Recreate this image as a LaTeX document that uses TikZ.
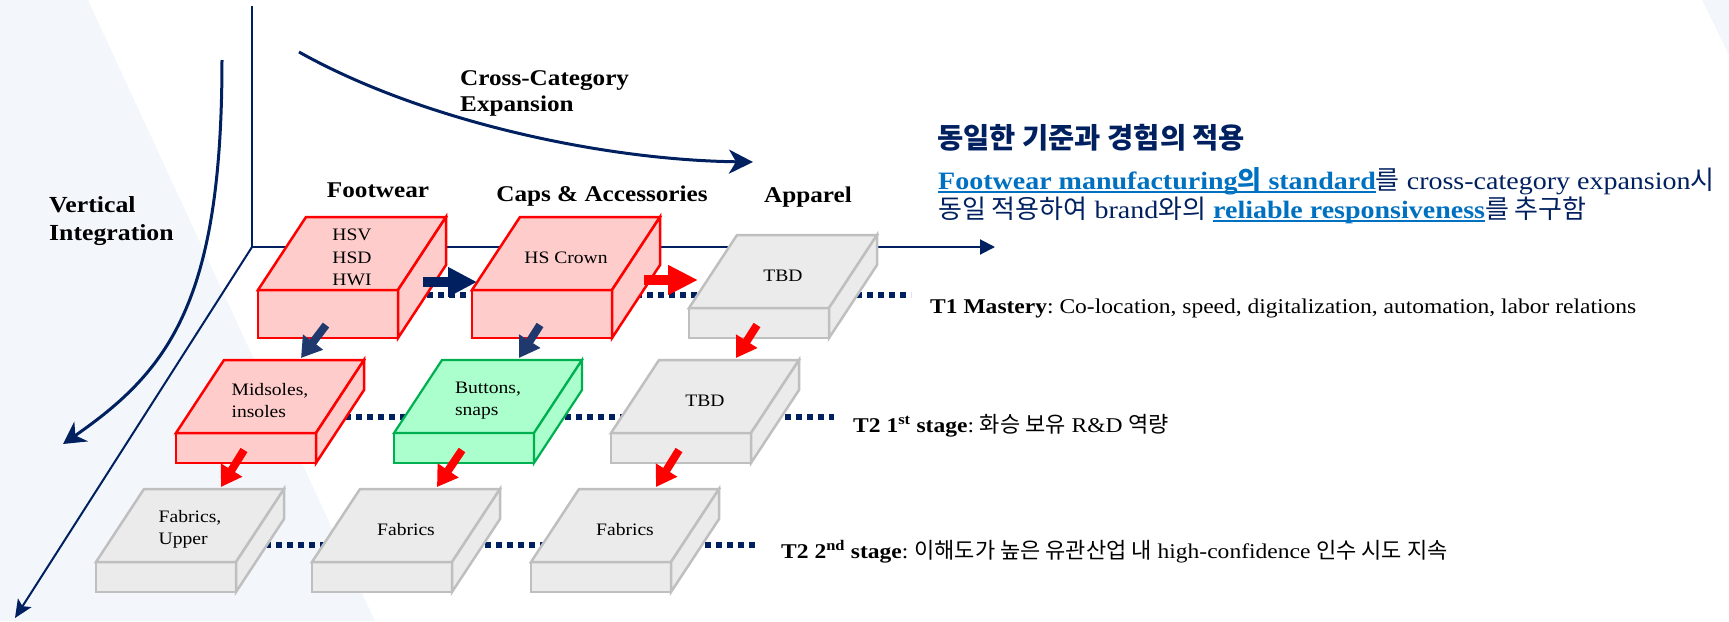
\documentclass[tikz,border=0pt]{standalone}
\usepackage{fontspec}
\setmainfont{Liberation Serif}[FakeStretch=1.12]
\newfontfamily\kr{Noto Sans CJK KR}
\usetikzlibrary{arrows.meta,calc}
\definecolor{navy}{HTML}{002060}
\definecolor{navyarr}{HTML}{1F386E}
\definecolor{bgblue}{HTML}{F3F6FB}
\definecolor{redfill}{HTML}{FFCCCC}
\definecolor{redline}{HTML}{FF0000}
\definecolor{grnfill}{HTML}{AAFFCC}
\definecolor{grnline}{HTML}{00B050}
\definecolor{gryfill}{HTML}{EBEBEB}
\definecolor{gryline}{HTML}{BFBFBF}
\definecolor{linkblue}{HTML}{0070C0}
\newcommand\KT[1]{{\kr\fontsize{22}{24}\selectfont #1}}
\newcommand\KH[1]{{\kr\fontsize{26}{28}\selectfont #1}}
\newcommand\myul[1]{\setbox0\hbox{#1}\rlap{\rule[-3.5pt]{\wd0}{1.4pt}}\box0}
\pgfdeclarelayer{bgfill}
\pgfdeclarelayer{dots}
\pgfsetlayers{bgfill,dots,main}
\tikzset{
  redbox/.style={draw=redline, fill=redfill, line width=2.5pt},
  grnbox/.style={draw=grnline, fill=grnfill, line width=2.2pt},
  grybox/.style={draw=gryline, fill=gryfill, line width=2.5pt},
  boxtext/.style={font=\fontsize{17.5}{22.5}\selectfont, align=left, inner sep=0pt, text=black},
  axisline/.style={draw=navy, line width=2pt},
  curvearr/.style={draw=navy, line width=3pt},
  dotline/.style={draw=navy, line width=6pt, dash pattern=on 5.5pt off 5.5pt},
  fatnavy/.style={draw=navy, line width=10pt, -{Triangle[length=29pt,width=28pt]}},
  fatred/.style={draw=redline, line width=10pt, -{Triangle[length=30pt,width=28pt]}},
  downnavy/.style={draw=navyarr, line width=8pt, -{Triangle[length=20pt,width=24pt]}},
  downred/.style={draw=redline, line width=8pt, -{Triangle[length=20pt,width=24pt]}},
  catlabel/.style={font=\fontsize{22.5}{26}\selectfont\bfseries, anchor=base, inner sep=0pt},
  tier/.style={font=\fontsize{21}{24}\selectfont, anchor=base west, inner sep=0pt, text=black},
}
\newcommand\mycube[6]{%
  \begin{scope}[shift={(#2,#3)}]
    \node[#5, minimum width=140pt, minimum height=#4pt, anchor=north west, inner sep=0pt, outer sep=0pt] (#1) at (0,0) {};
    \path[#5] (0,0) -- (48,-73) -- (188,-73) -- (140,0) -- cycle;
    \path[#5] (140,0) -- (188,-73) -- (188,-73+#4) -- (140,#4) -- cycle;
    \node[boxtext] (#1-t) at (94,-32.5) {#6};
    \coordinate (#1-out) at (68,#4-13);
    \coordinate (#1-in) at (125,-75);
  \end{scope}}
\begin{document}
\frenchspacing
\begin{tikzpicture}[x=1pt,y=-1pt]
\useasboundingbox (0,0) rectangle (1729,621);
% background
\begin{pgfonlayer}{bgfill}
\fill[bgblue] (0,0) -- (88,0) -- (375,621) -- (0,621) -- cycle;
\fill[bgblue] (1702,0) -- (1729,0) -- (1729,55) -- cycle;
\coordinate (O) at (252,247);
\coordinate (ytop) at (252,6);
\coordinate (xend) at (995,247);
\coordinate (zend) at (15,618);
\draw[axisline] (ytop) -- (O);
\draw[axisline, -{Triangle[length=15pt,width=15pt]}] (O) -- (xend);
\draw[axisline, -{Stealth[length=18pt,width=16pt,inset=4pt]}] (O) -- (zend);
\end{pgfonlayer}
% curved arrows
\coordinate (vi0) at (222,60);
\coordinate (vi1) at (63,444);
\draw[curvearr, -{Stealth[length=22pt,width=24pt,inset=7pt]}] (vi0) .. controls (222,300) and (170,370) .. (vi1);
\coordinate (cc0) at (299,52);
\coordinate (cc1) at (753,162);
\draw[curvearr, -{Stealth[length=24pt,width=24pt,inset=7pt]}] (cc0) .. controls (420,120) and (600,160) .. (cc1);
\node[font=\fontsize{22.5}{26}\selectfont\bfseries, align=left, anchor=west, inner sep=0pt] (cce) at (460,93) {Cross-Category\\Expansion};
\node[font=\fontsize{23}{28}\selectfont\bfseries, align=left, anchor=west, inner sep=0pt] (vint) at (49,221) {Vertical\\Integration};
% category labels
\node[catlabel] (cfw) at (378,197) {Footwear};
\node[catlabel] (cca) at (602,201) {Caps \& Accessories};
\node[catlabel] (cap) at (808,202) {Apparel};
% boxes
\mycube{b1}{258}{290}{48}{redbox}{HSV\\HSD\\HWI}
\mycube{b2}{472}{290}{48}{redbox}{HS Crown}
\mycube{b3}{689}{308}{30}{grybox}{TBD}
\mycube{b4}{176}{433}{30}{redbox}{Midsoles,\\insoles}
\mycube{b5}{394}{433}{30}{grnbox}{Buttons,\\snaps}
\mycube{b6}{611}{433}{30}{grybox}{TBD}
\mycube{b7}{96}{562}{30}{grybox}{Fabrics,\\Upper}
\mycube{b8}{312}{562}{30}{grybox}{Fabrics}
\mycube{b9}{531}{562}{30}{grybox}{Fabrics}
% dotted tier lines
\coordinate (r1end) at (911,295);
\coordinate (r2end) at (834,417);
\coordinate (r3end) at (758,545);
\begin{pgfonlayer}{dots}
\draw[dotline] (b1 |- r1end) -- (r1end);
\draw[dotline] (b4 |- r2end) -- (r2end);
\draw[dotline] (b7 |- r3end) -- (r3end);
\end{pgfonlayer}
% tier labels
\node[tier] (t1) at (930,313) {\textbf{T1 Mastery}: Co-location, speed, digitalization, automation, labor relations};
\node[tier] (t2) at (853,432) {\textbf{T2 1\textsuperscript{st} stage}: \KT{화승 보유} R\&D \KT{역량}};
\node[tier] (t3) at (781,558) {\textbf{T2 2\textsuperscript{nd} stage}: \KT{이해도가 높은 유관산업 내} high-confidence \KT{인수 시도 지속}};
% header
\node[anchor=base west, inner sep=0pt, font=\kr\fontsize{28.5}{30}\selectfont\bfseries, text=navy] (h0) at (937,148) {동일한 기준과 경험의 적용};
\node[anchor=base west, inner sep=0pt, font=\fontsize{25}{28}\selectfont, text=navy] (h1) at (938,189) {{\bfseries\color{linkblue}\myul{Footwear manufacturing\KH{의} standard}}\KH{를} cross-category expansion\KH{시}};
\node[anchor=base west, inner sep=0pt, font=\fontsize{25}{28}\selectfont, text=navy] (h2) at (938,218) {\KH{동일 적용하여} brand\KH{와의} {\bfseries\color{linkblue}\myul{reliable responsiveness}}\KH{를 추구함}};
% arrows between boxes
\draw[fatnavy] ($(b1.north west)+(165,-8)$) -- ($(b2.north west)+(5,-8)$);
\draw[fatred] ($(b2.north west)+(172,-10)$) -- ($(b3.north west)+(9,-28)$);
\draw[downnavy] (b1-out) -- (b4-in);
\draw[downnavy] (b2-out) -- (b5-in);
\draw[downred] (b3-out) -- (b6-in);
\draw[downred] (b4-out) -- (b7-in);
\draw[downred] (b5-out) -- (b8-in);
\draw[downred] (b6-out) -- (b9-in);
\end{tikzpicture}
\end{document}
